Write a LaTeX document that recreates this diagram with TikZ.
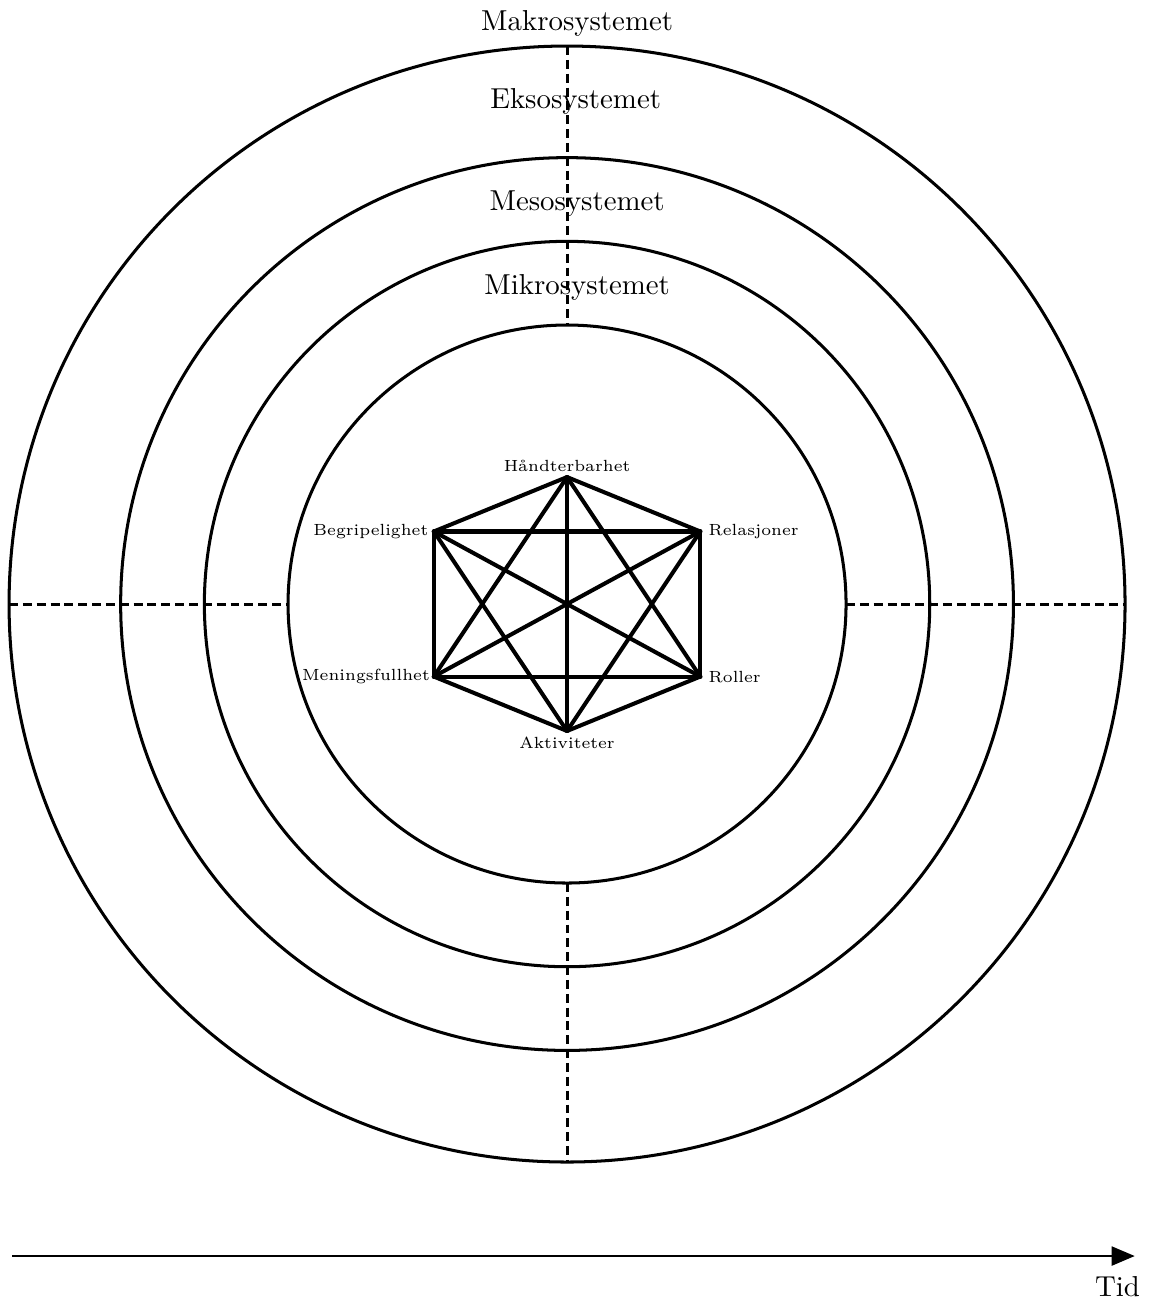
\documentclass[tikz,border=0pt]{standalone}
\usepackage{tikz}
\usetikzlibrary{
  arrows.meta,
  positioning,
  calc
}
\tikzset{
  ring/.style={
    circle, draw, line width=1.05pt,
    inner sep=0pt, outer sep=0pt
  },
  sys/.style={
    font=\normalsize, inner sep=3pt
  },
  corner/.style={
    font=\fontsize{5.6}{6.5}\selectfont, inner sep=1.2pt
  },
  edge/.style={line width=1.4pt, line cap=round, line join=round},
  split/.style={line width=1.05pt, dash pattern=on 3.1pt off 1.7pt},
  arr/.style={-{Triangle[length=8pt, width=6.5pt]}, line width=1pt}
}
\begin{document}
\begin{tikzpicture}[x=1.7cm, y=1.7cm]

    \useasboundingbox (-4.065,-5.025) rectangle (4.172,4.330);

    %% ---- Rings -----------------------------------------------------
    \node[ring, minimum size=6.8cm]   (mikro) at (0,0) {};
    \node[ring, minimum size=8.84cm]  (meso)  at (0,0) {};
    \node[ring, minimum size=10.88cm] (ekso)  at (0,0) {};
    \node[ring, minimum size=13.6cm]  (makro) at (0,0) {};

    \draw[split] (makro.north) -- (mikro.north);
    \draw[split] (mikro.south) -- (makro.south);
    \draw[split] (makro.west)  -- (mikro.west);
    \draw[split] (mikro.east)  -- (makro.east);

    %% ---- Ring labels -----------------------------------------------
    \node[sys, above=0pt of makro, xshift=3.5pt] (makroL) {Makrosystemet};
    \node[sys, xshift=3pt] (eksoL) at ($(makro.north)!0.5!(ekso.north)$) {Eksosystemet};
    \node[sys, xshift=3.5pt, yshift=-1.5pt] (mesoL) at ($(ekso.north)!0.5!(meso.north)$) {Mesosystemet};
    \node[sys, xshift=3.5pt, yshift=-1.5pt] (mikroL) at ($(meso.north)!0.5!(mikro.north)$) {Mikrosystemet};

    %% ---- Hexagon ---------------------------------------------------
    \coordinate (v1) at (0,0.91);
    \coordinate (v2) at (0.955,0.52);
    \coordinate (v3) at (0.955,-0.52);
    \coordinate (v4) at (0,-0.91);
    \coordinate (v5) at (-0.955,-0.52);
    \coordinate (v6) at (-0.955,0.52);

    \foreach \i in {1,...,5}{
      \pgfmathtruncatemacro\k{\i+1}
      \foreach \j in {\k,...,6}{
        \draw[edge] (v\i)--(v\j);
      }
    }

    \node[corner, above=0.5pt of v1] (l1) {Håndterbarhet};
    \node[corner, right=1.5pt of v2] (l2) {Relasjoner};
    \node[corner, right=1.5pt of v3] (l3) {Roller};
    \node[corner, below=0.8pt of v4] (l4) {Aktiviteter};
    \node[corner, left=0pt of v5]    (l5) {Meningsfullhet};
    \node[corner, left=0.5pt of v6]  (l6) {Begripelighet};

    %% ---- Time axis -------------------------------------------------
    \coordinate (t0) at (-3.978,-4.674);
    \coordinate (t1) at (4.07,-4.674);
    \draw[arr] (t0) -- (t1);
    \node[sys, below left=4pt and -5pt of t1] (tid) {Tid};

\end{tikzpicture}
\end{document}
